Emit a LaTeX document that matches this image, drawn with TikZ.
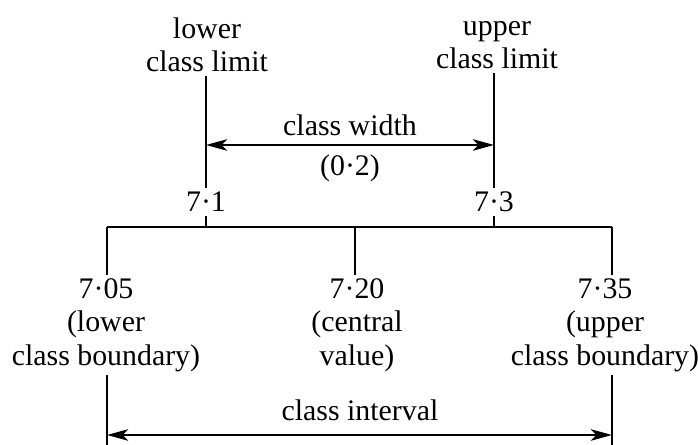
\documentclass[tikz,border=0pt]{standalone}
\usepackage{fontspec}
\setmainfont{Liberation Serif}
\usetikzlibrary{arrows.meta, positioning}
\tikzset{
	labeltext/.style={font=\fontsize{17}{19}\selectfont, align=center, inner sep=2pt}
}
\tikzset{
	rule/.style={line width=1.3pt}
}
\tikzset{
	spanarrow/.style={rule, {Stealth[length=12pt,width=6.5pt,inset=3pt]}-{Stealth[length=12pt,width=6.5pt,inset=3pt]}}
}

\begin{document}
\begin{tikzpicture}[x=0.02cm, y=-0.02cm]
      \useasboundingbox (0,0) rectangle (698,445);
      % class limits
      \node[labeltext] (lcl) at (207,45) {lower\\class limit};
      \node[labeltext] (ucl) at (497,45) {upper\\class limit};
      \node[labeltext] (lo) at (206,202) {7·1};
      \node[labeltext] (hi) at (494,202) {7·3};
      \draw[rule] (lo.north) -- (lo.north |- lcl.south);
      \draw[rule] (hi.north) -- (hi.north |- ucl.south);
      % class width between the two limits
      \coordinate (cw) at (0,145);
      \draw[spanarrow] (lo |- cw) -- (hi |- cw);
      \node[labeltext] (cwt) at (350,125) {class width};
      \node[labeltext] (cwv) at (350,168) {(0·2)};
      % the class line
      \coordinate (bl) at (107,227);
      \coordinate (bc) at (355,227);
      \coordinate (br) at (612,227);
      \draw[rule] (bl) -- (br);
      \draw[rule] (lo.south) -- (lo.south |- bl);
      \draw[rule] (hi.south) -- (hi.south |- bl);
      % boundaries and central value
      \node[labeltext] (lcb) at (106,325) {7·05\\(lower\\class boundary)};
      \node[labeltext] (cv) at (357,325) {7·20\\(central\\value)};
      \node[labeltext] (ucb) at (605,325) {7·35\\(upper\\class boundary)};
      \draw[rule] (bl) -- (bl |- lcb.north);
      \draw[rule] (bc) -- (bc |- cv.north);
      \draw[rule] (br) -- (br |- ucb.north);
      % class interval between the two boundaries
      \coordinate (ci) at (0,435);
      \coordinate (bot) at (0,445);
      \draw[rule] (bl |- lcb.south) -- (bl |- bot);
      \draw[rule] (br |- ucb.south) -- (br |- bot);
      \draw[spanarrow] (bl |- ci) -- (br |- ci);
      \node[labeltext] (cit) at (360,410) {class interval};
    \end{tikzpicture}
\end{document}
